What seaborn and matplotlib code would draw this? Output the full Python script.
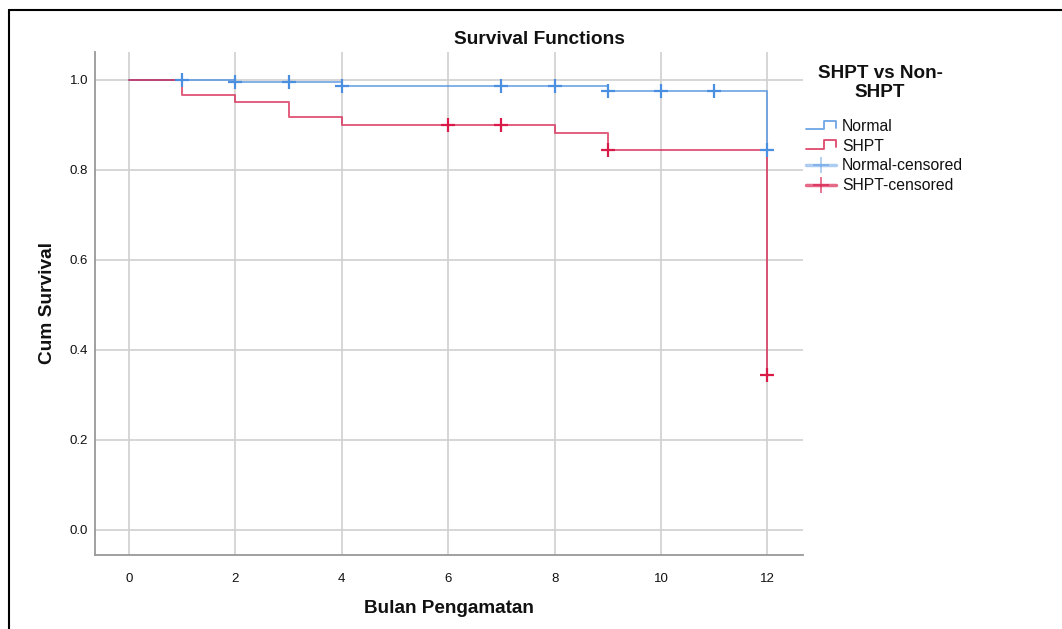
import matplotlib
matplotlib.use("Agg")
import matplotlib.pyplot as plt
import seaborn as sns
import pandas as pd
from matplotlib.lines import Line2D
from matplotlib.legend_handler import HandlerBase

# ==== DATA ====
normal_time = [0, 2, 4, 9, 12]
normal_surv = [1.0, 0.995, 0.986, 0.976, 0.844]
shpt_time = [0, 1, 2, 3, 4, 8, 9, 12]
shpt_surv = [1.0, 0.967, 0.950, 0.917, 0.900, 0.883, 0.845, 0.345]

normal_cens_time = [1, 2, 3, 4, 7, 8, 9, 10, 11, 12]
normal_cens_surv = [1.0, 0.995, 0.995, 0.986, 0.986, 0.986, 0.976, 0.976, 0.976, 0.844]
shpt_cens_time = [6, 7, 9, 12]
shpt_cens_surv = [0.900, 0.900, 0.845, 0.345]

groups = ["Normal", "SHPT"]
x_ticks = [0, 2, 4, 6, 8, 10, 12]
y_ticks = [0.0, 0.2, 0.4, 0.6, 0.8, 1.0]

blue = "#4a8fe0"
red = "#d81b48"
palette = {"Normal": blue, "SHPT": red}

steps = pd.concat([
    pd.DataFrame({"time": normal_time, "surv": normal_surv, "group": "Normal"}),
    pd.DataFrame({"time": shpt_time, "surv": shpt_surv, "group": "SHPT"}),
])
cens = pd.concat([
    pd.DataFrame({"time": normal_cens_time, "surv": normal_cens_surv, "group": "Normal"}),
    pd.DataFrame({"time": shpt_cens_time, "surv": shpt_cens_surv, "group": "SHPT"}),
])

# ==== STYLE ====
sns.set_style("white")
plt.rcParams["font.family"] = ["Liberation Sans", "DejaVu Sans"]

fig = plt.figure(figsize=(10.62, 6.29), dpi=100)
ax = fig.add_axes([95 / 1062, 1 - 555 / 629, (803 - 95) / 1062, (555 - 52) / 629])

sns.lineplot(data=steps, x="time", y="surv", hue="group", palette=palette,
             drawstyle="steps-post", linewidth=1.4, alpha=0.7, ax=ax,
             legend=False, estimator=None, sort=False)
for g in groups:
    sub = cens[cens["group"] == g]
    ax.scatter(sub["time"], sub["surv"], marker="+", s=90, linewidths=1.6,
               color=palette[g], zorder=5)

ax.set_xlim(-0.64, 12.67)
ax.set_ylim(-0.056, 1.062)
ax.set_xticks(x_ticks)
ax.set_yticks(y_ticks)
ax.set_yticklabels([f"{v:.1f}" for v in y_ticks])
ax.grid(True, color="#cfcfcf", linewidth=1.2)
ax.set_axisbelow(True)
ax.tick_params(length=0, labelsize=9.5, colors="#111111")
ax.tick_params(axis="x", pad=13)
ax.tick_params(axis="y", pad=5)
for s in ["top", "right"]:
    ax.spines[s].set_visible(False)
for s in ["left", "bottom"]:
    ax.spines[s].set_color("#999999")
    ax.spines[s].set_linewidth(1.3)

ax.set_xlabel("Bulan Pengamatan", fontsize=13.6, fontweight="bold", labelpad=11,
              color="#111111")
ax.set_ylabel("Cum Survival", fontsize=13.8, fontweight="bold", labelpad=10,
              color="#111111")
fig.text(539 / 1062, 1 - 39 / 629, "Survival Functions", fontsize=13.8,
         fontweight="bold", ha="center", va="center", color="#111111")


# ==== LEGEND ====
class StepHandler(HandlerBase):
    def create_artists(self, legend, orig, xd, yd, w, h, fs, trans):
        c = orig.get_color()
        xs = [xd, xd + 0.6 * w, xd + 0.6 * w, xd + w, xd + w]
        ys = [yd + 0.15 * h, yd + 0.15 * h, yd + 0.95 * h, yd + 0.95 * h, yd + 0.3 * h]
        ln = Line2D(xs, ys, color=c, linewidth=1.3, alpha=0.8, transform=trans)
        return [ln]


handles = [
    Line2D([], [], color=blue),
    Line2D([], [], color=red),
    Line2D([0], [0], color=blue, alpha=0.45, linewidth=2.5, marker="+",
           markersize=12, markeredgewidth=1.3),
    Line2D([0], [0], color=red, alpha=0.65, linewidth=2.5, marker="+",
           markersize=12, markeredgewidth=1.3),
]
labels = ["Normal", "SHPT", "Normal-censored", "SHPT-censored"]
fig.text(880 / 1062, 1 - 83 / 629, "SHPT vs Non-\nSHPT", fontsize=13.6,
         fontweight="bold", ha="center", va="center", multialignment="center",
         linespacing=1.08, color="#111111")
leg = fig.legend(handles, labels, loc="upper left",
                 bbox_to_anchor=(806 / 1062, 1 - 119 / 629),
                 frameon=False, fontsize=11.3, borderpad=0, borderaxespad=0,
                 handlelength=1.9, handletextpad=0.4, labelspacing=0.3,
                 handler_map={handles[0]: StepHandler(), handles[1]: StepHandler()})
for t in leg.get_texts():
    t.set_color("#111111")

# outer frame lines (top and left)
fig.add_artist(Line2D([9 / 1062, 9 / 1062], [0, 1 - 10 / 629], color="black",
                      linewidth=1.5, transform=fig.transFigure))
fig.add_artist(Line2D([9 / 1062, 1], [1 - 10 / 629, 1 - 10 / 629], color="black",
                      linewidth=1.5, transform=fig.transFigure))

fig.savefig("out.png", dpi=100)
